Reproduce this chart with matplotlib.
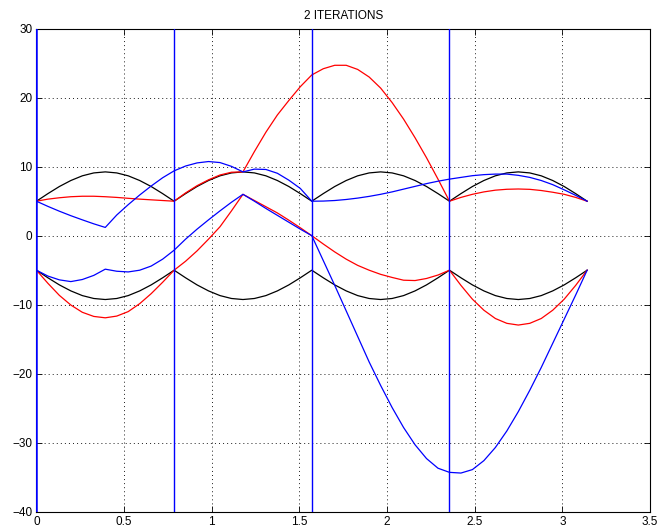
import numpy as np
import matplotlib
matplotlib.use("Agg")
import matplotlib.pyplot as plt

plt.rcParams['font.family'] = ['Liberation Sans', 'DejaVu Sans']
plt.rcParams['lines.scale_dashes'] = False

# sample positions (k*pi/48)
x = np.linspace(0, np.pi, 49)

black_upper = [5.0, 6.10, 7.13, 8.0, 8.68, 9.1, 9.25, 9.1, 8.68, 8.0, 7.13, 6.10,
               5.0, 6.10, 7.13, 8.0, 8.68, 9.1, 9.25, 9.1, 8.68, 8.0, 7.13, 6.10,
               5.0, 6.10, 7.13, 8.0, 8.68, 9.1, 9.25, 9.1, 8.68, 8.0, 7.13, 6.10,
               5.0, 6.10, 7.13, 8.0, 8.68, 9.1, 9.25, 9.1, 8.68, 8.0, 7.13, 6.10,
               5.0]
black_lower = [-5.0, -6.10, -7.13, -8.0, -8.68, -9.1, -9.25, -9.1, -8.68, -8.0, -7.13, -6.10,
               -5.0, -6.10, -7.13, -8.0, -8.68, -9.1, -9.25, -9.1, -8.68, -8.0, -7.13, -6.10,
               -5.0, -6.10, -7.13, -8.0, -8.68, -9.1, -9.25, -9.1, -8.68, -8.0, -7.13, -6.10,
               -5.0, -6.10, -7.13, -8.0, -8.68, -9.1, -9.25, -9.1, -8.68, -8.0, -7.13, -6.10,
               -5.0]

red_upper = [5.0, 5.3, 5.5, 5.65, 5.72, 5.72, 5.65, 5.55, 5.42, 5.3, 5.2, 5.1,
             5.0, 6.2, 7.25, 8.1, 8.8, 9.2,
             9.25, 12.2, 15.0, 17.5, 19.6, 21.6,
             23.3, 24.2, 24.7, 24.7, 24.1, 23.0, 21.4, 19.3, 16.9, 14.2, 11.3, 8.2,
             5.0, 5.55, 6.0, 6.35, 6.6, 6.73, 6.77, 6.72, 6.55, 6.3, 6.0, 5.55,
             5.0]
red_lower = [-5.0, -6.9, -8.65, -10.05, -11.1, -11.7, -11.9, -11.65, -11.0, -9.85, -8.4, -6.75,
             -5.0, -3.7, -2.2, -0.5, 1.3, 3.6,
             6.0, 5.1, 4.2, 3.3, 2.25, 1.15,
             0.0, -1.2, -2.35, -3.4, -4.3, -5.0, -5.6, -6.05, -6.45, -6.5, -6.2, -5.7,
             -5.0, -7.2, -9.2, -10.8, -12.0, -12.7, -12.95, -12.7, -12.0, -10.8, -9.2, -7.2,
             -5.0]

blue_upper = [5.0, 4.25, 3.55, 2.9, 2.3, 1.72,
              1.2, 3.0, 4.5, 5.9, 7.2, 8.4,
              9.4, 10.1, 10.55, 10.75, 10.6, 10.05,
              9.25, 9.65, 9.6, 9.05, 8.05, 6.85,
              5.0, 5.02, 5.1, 5.25, 5.45, 5.7, 6.0, 6.35, 6.75, 7.15, 7.55, 7.9,
              8.2, 8.45, 8.7, 8.85, 8.93, 8.93, 8.75, 8.45, 8.0, 7.4, 6.65, 5.85,
              5.0]
blue_lower = [-5.0, -5.85, -6.4, -6.65, -6.35, -5.75,
              -4.85, -5.15, -5.25, -5.0, -4.4, -3.4,
              -2.1, -0.5, 0.95, 2.3, 3.6, 4.85,
              6.0, 5.0, 3.95, 2.95, 1.95, 0.95,
              0.0, -3.6, -7.2, -10.9, -14.6, -18.3, -21.7, -24.9, -27.8, -30.3, -32.3, -33.7,
              -34.3, -34.4, -33.9, -32.6, -30.7, -28.3, -25.5, -22.4, -19.1, -15.6, -12.1, -8.6,
              -5.0]

vline_x = [0.0, np.pi / 4, np.pi / 2, 3 * np.pi / 4]

x_ticks = [0, 0.5, 1, 1.5, 2, 2.5, 3, 3.5]
x_tick_labels = ['0', '0.5', '1', '1.5', '2', '2.5', '3', '3.5']
y_ticks = [-40, -30, -20, -10, 0, 10, 20, 30]
y_tick_labels = ['\u221240', '\u221230', '\u221220', '\u221210', '0', '10', '20', '30']

fig = plt.figure(figsize=(6.6, 5.28), dpi=100)
ax = fig.add_axes([0.0552, 0.0309, 0.9296, 0.9147])

lw = 0.9
ax.plot(x, black_upper, color='k', lw=lw)
ax.plot(x, black_lower, color='k', lw=lw)
ax.plot(x, red_upper, color='r', lw=lw)
ax.plot(x, red_lower, color='r', lw=lw)
ax.plot(x, blue_upper, color='b', lw=lw)
ax.plot(x, blue_lower, color='b', lw=lw)
for i, xv in enumerate(vline_x):
    ax.axvline(xv, color='b', lw=(1.8 if i == 0 else 1.0), zorder=3)

ax.set_xlim(0, 3.5)
ax.set_ylim(-40, 30)
ax.set_xticks(x_ticks)
ax.set_xticklabels(x_tick_labels)
ax.set_yticks(y_ticks)
ax.set_yticklabels(y_tick_labels)
ax.grid(True, color='k', linestyle=(0, (0.72, 2.2)), linewidth=0.6)
ax.tick_params(direction='in', top=True, right=True, length=4, width=0.6,
               labelsize=8.5, pad=3, colors='k')
for s in ax.spines.values():
    s.set_linewidth(0.8)
    s.set_color('k')
ax.set_title('2 ITERATIONS', fontsize=8.5, pad=7)

fig.savefig('out.png', dpi=100)
